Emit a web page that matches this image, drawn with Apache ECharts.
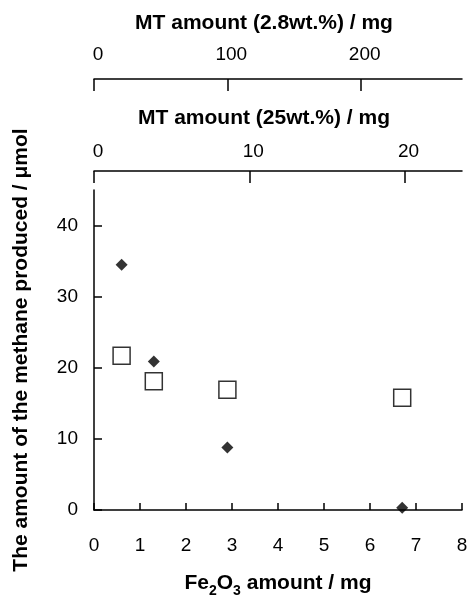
<!DOCTYPE html>
<html>
<head>
<meta charset="utf-8">
<script src="https://cdn.jsdelivr.net/npm/echarts@6/dist/echarts.min.js"></script>
<style>
    html, body { margin: 0; padding: 0; background: #fff; }
    #chart { width: 469px; height: 597px; }
</style>
</head>
<body>
<div id="chart"></div>
<script>
// Fe2O3 amount (mg) for each sample
const fe2o3Amount = [0.6, 1.3, 2.9, 6.7];
// methane produced (umol), filled diamonds and open squares
const methaneDiamond = [34.5, 20.9, 8.8, 0.3];
const methaneSquare = [21.7, 18.1, 16.9, 15.8];

// tick labels
const fe2o3Ticks = [0, 1, 2, 3, 4, 5, 6, 7, 8];
const methaneTicks = [0, 10, 20, 30, 40];
const mt25Ticks = [0, 10, 20];
const mt28Ticks = [0, 100, 200];

// axis ranges
const fe2o3Range = [0, 8];
const methaneRange = [0, 45];
const mt25Range = [0, 23.7];
const mt28Range = [0, 276];

const font = '"Liberation Sans", Arial, sans-serif';
const black = '#000';

const chart = echarts.init(document.getElementById('chart'));

const lineStyle = { color: black, width: 1.5 };

function topAxis(gridIndex, range, ticks, name, labelMargin, nameGap) {
    return {
        type: 'value',
        gridIndex: gridIndex,
        position: 'top',
        min: range[0],
        max: range[1],
        name: name,
        nameLocation: 'middle',
        nameGap: nameGap,
        nameTextStyle: {
            fontFamily: font,
            fontWeight: 'bold',
            fontSize: 21,
            color: black,
            padding: [0, 28, 0, 0]
        },
        axisLine: { show: true, onZero: false, lineStyle: lineStyle },
        axisTick: { show: true, inside: true, length: 12, lineStyle: lineStyle, customValues: ticks },
        axisLabel: {
            fontFamily: font, fontSize: 19, color: black,
            margin: labelMargin,
            customValues: ticks,
            padding: [0, 0, 0, 8]
        },
        splitLine: { show: false }
    };
}

function hiddenY(gridIndex) {
    return { type: 'value', gridIndex: gridIndex, show: false, min: 0, max: 1 };
}

chart.setOption({
    animation: false,
    backgroundColor: '#fff',
    textStyle: { fontFamily: font, color: black },
    grid: [
        { left: 94, right: 7, top: 190, bottom: 87, outerBoundsMode: 'none' },
        { left: 94, right: 7, top: 171, height: 10, outerBoundsMode: 'none' },
        { left: 94, right: 7, top: 79, height: 10, outerBoundsMode: 'none' }
    ],
    xAxis: [
        {
            type: 'value',
            gridIndex: 0,
            min: fe2o3Range[0],
            max: fe2o3Range[1],
            interval: 1,
            name: 'Fe{sub|2}O{sub|3} amount / mg',
            nameLocation: 'middle',
            nameGap: 63,
            nameTextStyle: {
                fontFamily: font, fontWeight: 'bold', fontSize: 21, color: black,
                rich: {
                    sub: { fontFamily: font, fontWeight: 'bold', fontSize: 14, color: black, verticalAlign: 'bottom', padding: [0, 0, -4, 0] }
                }
            },
            axisLine: { show: true, onZero: false, lineStyle: lineStyle },
            axisTick: { show: true, inside: true, length: 7, lineStyle: lineStyle, customValues: fe2o3Ticks },
            axisLabel: { fontFamily: font, fontSize: 19, color: black, margin: 26, customValues: fe2o3Ticks },
            splitLine: { show: false }
        },
        topAxis(1, mt25Range, mt25Ticks, 'MT amount (25wt.%) / mg', 10, 42),
        topAxis(2, mt28Range, mt28Ticks, 'MT amount (2.8wt.%) / mg', 15, 45)
    ],
    yAxis: [
        {
            type: 'value',
            gridIndex: 0,
            min: methaneRange[0],
            max: methaneRange[1],
            name: 'The amount of the methane produced / μmol',
            nameLocation: 'middle',
            nameGap: 62,
            nameTextStyle: { fontFamily: font, fontWeight: 'bold', fontSize: 21, color: black },
            axisLine: { show: true, onZero: false, lineStyle: lineStyle },
            axisTick: { show: true, inside: true, length: 8, lineStyle: lineStyle, customValues: methaneTicks },
            axisLabel: { fontFamily: font, fontSize: 19, color: black, margin: 16, customValues: methaneTicks },
            splitLine: { show: false }
        },
        hiddenY(1),
        hiddenY(2)
    ],
    series: [
        {
            type: 'scatter',
            xAxisIndex: 0,
            yAxisIndex: 0,
            symbol: 'rect',
            symbolSize: 17,
            itemStyle: { color: '#fff', borderColor: black, borderWidth: 1.5 },
            data: fe2o3Amount.map((x, i) => [x, methaneSquare[i]])
        },
        {
            type: 'scatter',
            xAxisIndex: 0,
            yAxisIndex: 0,
            symbol: 'diamond',
            symbolSize: 12,
            itemStyle: { color: black },
            data: fe2o3Amount.map((x, i) => [x, methaneDiamond[i]])
        }
    ]
});
</script>
</body>
</html>
